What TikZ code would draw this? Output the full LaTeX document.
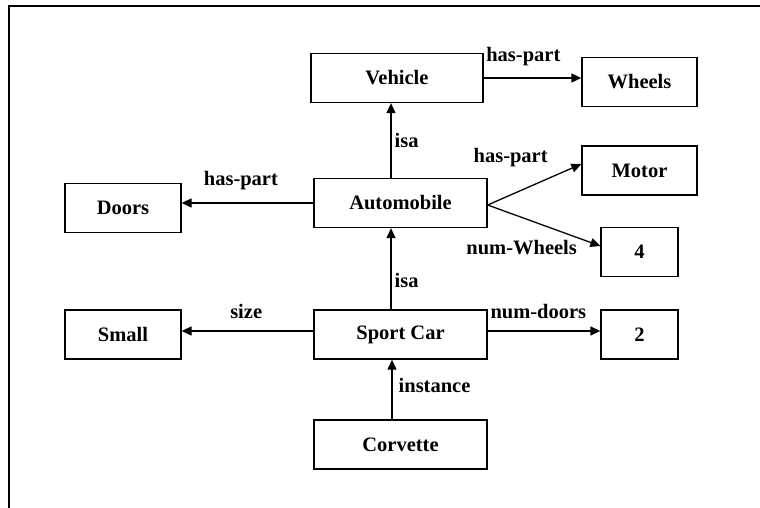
\documentclass[tikz,border=0pt]{standalone}
\usepackage{fontspec}
\setmainfont{Liberation Serif}
\usetikzlibrary{arrows.meta}
\begin{document}
\begin{tikzpicture}[x=1pt,y=-1pt,
  box/.style={draw,line width=1.3pt,minimum height=49pt,inner sep=0pt,
    font=\fontsize{20.5}{24}\selectfont\bfseries},
  wide/.style={box,minimum width=173pt},
  mid/.style={box,minimum width=116pt},
  narrow/.style={box,minimum width=77pt},
  arr/.style={line width=1.3pt,-{Triangle[length=10pt,width=9pt]}},
  lbl/.style={inner sep=0pt,font=\fontsize{20.5}{24}\selectfont\bfseries}]
\useasboundingbox (0,0) rectangle (760,508);
\draw[line width=2pt] (8.5,508) -- (8.5,6.5) -- (760,6.5);
\node[wide,minimum width=172pt] (veh) at (397,78) {Vehicle};
\node[mid,minimum width=115pt] (whe) at (639.5,82) {Wheels};
\node[mid,minimum width=115pt] (mot) at (639.5,170.5) {Motor};
\node[wide] (auto) at (400.5,203) {Automobile};
\node[mid] (doors) at (123,208) {Doors};
\node[narrow] (four) at (639.5,252) {4};
\node[mid] (small) at (123,334.5) {Small};
\node[wide] (sport) at (400.5,334.5) {Sport Car};
\node[narrow] (two) at (639.5,334.5) {2};
\node[wide] (corv) at (400.5,444.5) {Corvette};
\coordinate (ae) at ([yshift=-2pt]auto.east);
\draw[arr] (veh.east) -- node[lbl,pos=0,anchor=south west,xshift=2pt,yshift=11pt] {has-part} (veh.east -| whe.west);
\draw[arr] ([xshift=-9.5pt]auto.north) -- node[lbl,pos=0.5,anchor=west,xshift=3pt] {isa} ([xshift=-9.5pt]auto.north |- veh.south);
\draw[arr] (ae) -- node[lbl,pos=0,xshift=23pt,yshift=47pt] {has-part} ([yshift=6.5pt]mot.west);
\draw[arr] (ae) -- node[lbl,pos=0,xshift=34pt,yshift=-43pt] {num-Wheels} ([yshift=6pt]four.west);
\draw[arr] (auto.west) -- node[lbl,pos=0.55,above=12pt] {has-part} (auto.west -| doors.east);
\draw[arr] ([xshift=-9.5pt]sport.north) -- node[lbl,pos=0.36,anchor=west,xshift=3pt] {isa} ([xshift=-9.5pt]sport.north |- auto.south);
\draw[arr] ([yshift=3.5pt]sport.west) -- node[lbl,pos=0.51,above=12pt] {size} ([yshift=3.5pt]sport.west -| small.east);
\draw[arr] ([yshift=3.5pt]sport.east) -- node[lbl,pos=0.45,above=12pt] {num-doors} ([yshift=3.5pt]sport.east -| two.west);
\draw[arr] ([xshift=-8.5pt]corv.north) -- node[lbl,pos=0.57,anchor=west,xshift=6pt] {instance} ([xshift=-8.5pt]corv.north |- sport.south);
\end{tikzpicture}
\end{document}
